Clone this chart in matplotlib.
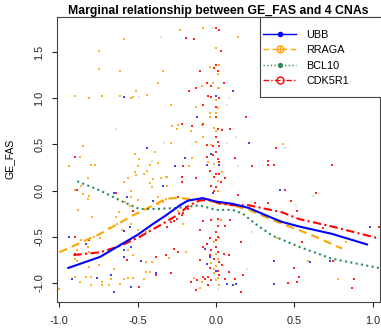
import matplotlib
matplotlib.use("Agg")
import matplotlib.pyplot as plt
from matplotlib.patches import Rectangle
from matplotlib.lines import Line2D

plt.rcParams['font.family'] = ['Liberation Sans', 'DejaVu Sans']

# ---------------- data ----------------
series_names = ["UBB", "RRAGA", "BCL10", "CDK5R1"]

# smoothed curves
ubb_x = [-0.943, -0.74, -0.50, -0.40, -0.32, -0.23, -0.18, -0.085, 0.0, 0.106, 0.21, 0.32, 0.42, 0.53, 0.74, 0.964]
ubb_y = [-0.84, -0.72, -0.48, -0.36, -0.27, -0.16, -0.11, -0.083, -0.12, -0.144, -0.19, -0.27, -0.34, -0.39, -0.47, -0.585]

rraga_x = [-1.0, -0.74, -0.53, -0.40, -0.32, -0.25, -0.106, 0.0, 0.106, 0.21, 0.32, 0.42, 0.53, 0.64, 0.805]
rraga_y = [-0.67, -0.47, -0.27, -0.16, -0.09, -0.08, -0.10, -0.126, -0.16, -0.21, -0.29, -0.36, -0.43, -0.505, -0.63]

bcl10_x = [-0.886, -0.74, -0.61, -0.49, -0.38, -0.25, -0.106, 0.0, 0.106, 0.17, 0.25, 0.36, 0.53, 0.74, 1.04]
bcl10_y = [0.10, 0.0, -0.11, -0.20, -0.20, -0.19, -0.16, -0.21, -0.21, -0.25, -0.36, -0.49, -0.61, -0.74, -0.84]

cdk_x = [-0.91, -0.74, -0.61, -0.49, -0.36, -0.25, -0.17, -0.106, -0.04, 0.02, 0.106, 0.21, 0.32, 0.42, 0.53, 0.74, 1.04]
cdk_y = [-0.70, -0.67, -0.60, -0.505, -0.38, -0.27, -0.16, -0.11, -0.10, -0.14, -0.16, -0.16, -0.20, -0.235, -0.31, -0.39, -0.52]

# scatter points
ubb_px = [-0.59, 0.11, 0.00, -0.44, -0.34, -0.65, -0.57, -0.40, -0.12, 0.21, -0.20, -0.03, -0.26, -0.06, 0.02,
          -0.02, 0.41, -0.59, -0.55, -0.94, -0.83, -0.54, -0.59, -0.59, -0.48, -0.38, -0.92, -0.76, -0.67, -0.65,
          -0.54, -0.07, -0.04, -0.06, 0.00, 0.07, 0.11, 0.98, 0.60, 0.73, 0.37, 0.13, 0.37]
ubb_py = [1.01, 1.08, 1.03, 0.46, 0.05, -0.03, -0.07, -0.11, 0.80, 0.52, 0.35, 0.40, 0.27, 0.28, 0.28,
          -0.03, 0.01, -0.44, -0.40, -0.50, -0.58, -0.61, -0.65, -0.72, -0.76, -0.90, -0.96, -0.95, -0.92, -1.10,
          -1.05, -0.63, -0.72, -0.80, -0.87, -1.01, -1.02, -0.40, -0.78, -0.77, -0.77, -1.01, -1.01]

rraga_px = [-0.59, -0.75, -0.75, -0.61, -0.34, -0.37, -0.51, -0.44, -0.90, -0.81, -0.73, -0.61, -0.53, -0.54,
            -0.23, -0.08, 0.14, 0.00, 0.02, -0.04, 0.01, -0.02, -0.09, 0.01, 0.02, 0.00, -0.29, -0.13, 0.01,
            -0.85, -0.87, -0.52, -0.49, -0.39, -0.94, -0.80, -0.77, -0.50, -0.37, -0.42, -0.44, -0.52, -0.51,
            -0.46, -0.56, -0.82, -0.40, -0.35, -0.32, -0.59, -0.42, -0.86, -0.41, -0.90, -0.54, -0.85, -0.81,
            -0.82, -0.54, -0.50, -0.37, -0.36, -0.34, -0.32, -0.58, -0.55, -0.37,
            -0.04, 0.00, -0.04, -0.28, -0.24, -0.25, -0.09, -0.16, -0.01, 0.00, -0.29, -0.13, -0.08, -0.03,
            -0.15, -0.05, -0.17, -0.01, 0.04, -0.31, 0.01, -0.31, 0.01, 0.43,
            -0.88, -0.62, -0.79, -0.64, -0.63, -0.54, -0.68, -0.60, -0.50, -0.39, -0.45, -0.86, -0.74, -0.78,
            -0.82, -0.89, -0.81, -0.90, -0.89, -0.56, -0.53, -0.45, -0.41, -0.75, -0.65, -0.81, -0.93, -0.45,
            -0.42, -0.83, -0.80, -0.90, -0.87, -0.80, -0.73, -0.67, -0.73, -0.68, -0.59, -0.56, -0.53, -1.00,
            -0.61, -0.46,
            -0.21, -0.24, 0.03, 0.02, -0.01, -0.19, 0.00, 0.01, -0.03, 0.00, -0.01, -0.01, 0.01, 0.00, -0.14,
            -0.09, 0.02, -0.10, -0.30, 0.83, 0.59, 0.78, 0.39]
rraga_py = [1.64, 1.51, 1.32, 1.30, 1.30, 1.17, 1.08, 1.04, 1.02, 1.00, 1.02, 1.02, 1.01, 1.00,
            1.74, 1.76, 1.66, 1.55, 1.36, 1.34, 1.26, 1.17, 1.13, 1.11, 1.11, 0.98, 0.93, 0.91, 0.89,
            0.48, 0.36, 0.40, 0.34, 0.42, 0.27, 0.28, 0.28, 0.27, 0.30, 0.28, 0.21, 0.20, 0.17,
            0.18, 0.14, 0.14, 0.13, 0.14, 0.15, 0.09, 0.08, 0.05, 0.04, 0.01, -0.01, -0.04, -0.06,
            -0.09, -0.07, -0.10, -0.07, -0.12, -0.12, -0.09, -0.13, -0.17, -0.15,
            0.84, 0.84, 0.80, 0.70, 0.71, 0.67, 0.71, 0.65, 0.68, 0.64, 0.52, 0.53, 0.58, 0.49,
            0.35, 0.31, 0.27, 0.29, 0.20, 0.15, 0.10, 0.05, 0.00, 0.50,
            -0.21, -0.23, -0.29, -0.29, -0.36, -0.36, -0.41, -0.43, -0.43, -0.41, -0.45, -0.54, -0.52, -0.50,
            -0.61, -0.65, -0.67, -0.74, -0.76, -0.65, -0.70, -0.78, -0.78, -0.81, -0.85, -0.83, -0.83, -0.88,
            -0.88, -0.94, -0.94, -0.94, -0.99, -1.03, -0.99, -0.96, -1.03, -1.03, -0.96, -0.95, -0.95, -1.07,
            -1.01, -0.96,
            -0.36, -0.22, -0.32, -0.52, -0.56, -0.67, -0.69, -0.74, -0.79, -0.82, -0.85, -0.90, -0.95, -0.97, -0.95,
            -0.99, -1.02, -1.06, -0.73, -0.56, -0.76, -0.96, -0.52]

bcl10_px = [-0.35, -0.49, -0.02, 0.08, 0.07, -0.64, -0.41, -0.33, 0.44, 0.62, 0.51, 0.01, 0.20, 0.23,
            0.13, 0.07, -0.15, 0.14, 0.10]
bcl10_py = [1.66, 1.01, 1.76, 1.00, 0.93, 0.67, 0.32, 0.52, 0.46, -0.06, -0.17, -1.07, -0.85, -0.45,
            0.58, 0.51, 0.50, 0.27, 0.07]

cdk_px = [0.00, 0.02, -0.19, -0.14, 0.03, 0.00, -0.01, -0.10, 0.01, -0.06, 0.05, -0.13, -0.03, -0.17, -0.05,
          -0.03, 0.02, -0.08, 0.00, 0.36,
          -0.90, -0.89, -0.64,
          0.00, 0.19, -0.22, -0.15, -0.08, 0.01, 0.04, 0.09, 0.00, 0.01, 0.02, -0.06, -0.02, 0.38, 0.00, -0.06,
          -0.02, 0.01, 0.02, 0.12, -0.21, 0.23, 0.33, 0.33, 0.37, -0.04, 0.02, 0.00, -0.22, -0.13, -0.01, 0.06,
          -0.22, 0.03, -0.03, 0.00, -0.01, -0.24, 0.14, 0.25, 0.33,
          0.74, 0.44, 0.64, 0.48,
          -0.53, -0.90, -0.81, -0.90, -0.57, -0.38, -0.32, -0.38, -0.49,
          -0.29, -0.27, -0.25, -0.22, -0.21, -0.31, -0.18, -0.08, -0.03, 0.01, 0.06, 0.09, 0.01, 0.00, -0.10,
          0.01, -0.04, 0.00, -0.06, -0.08, 0.00, -0.27, -0.24, -0.03, 0.01, -0.04, 0.05, 0.08, -0.01, -0.10,
          0.02, 0.04, -0.04, 0.01, 0.08, 0.02, -0.05, -0.07, -0.08, 0.06, 0.12, -0.03, -0.12, -0.16, -0.29,
          0.17, -0.05, -0.13, 0.16, 0.16,
          0.52, 0.68, 0.55, 0.75, 0.50, 0.53, 0.52, 0.46, 0.88, 1.04, 0.87]
cdk_py = [1.76, 1.74, 1.65, 1.64, 1.51, 1.36, 1.33, 1.30, 1.30, 1.17, 1.17, 1.11, 1.13, 1.08, 1.02,
          1.01, 1.00, 0.93, 0.91, 1.01,
          0.36, 0.01, -0.03,
          0.80, 0.80, 0.72, 0.70, 0.72, 0.67, 0.66, 0.67, 0.58, 0.53, 0.48, 0.49, 0.48, 0.46, 0.42, 0.36,
          0.39, 0.34, 0.31, 0.35, 0.27, 0.27, 0.32, 0.28, 0.28, 0.21, 0.18, 0.18, 0.15, 0.14, 0.15, 0.14,
          0.09, 0.09, 0.05, 0.04, 0.00, -0.07, -0.05, -0.14, -0.14,
          0.28, 0.01, -0.03, -0.11,
          -0.22, -0.50, -0.54, -0.69, -0.75, -0.72, -0.70, -0.92, -1.05,
          -0.34, -0.33, -0.31, -0.27, -0.24, -0.40, -0.20, -0.33, -0.32, -0.31, -0.38, -0.32, -0.38, -0.45, -0.43,
          -0.50, -0.52, -0.54, -0.58, -0.61, -0.61, -0.63, -0.67, -0.65, -0.67, -0.70, -0.69, -0.70, -0.74, -0.75,
          -0.78, -0.81, -0.84, -0.87, -0.88, -0.92, -0.94, -0.96, -0.94, -0.96, -0.96, -0.97, -0.97, -0.99, -0.90,
          -0.92, -1.02, -1.08, -1.10, -0.56,
          -0.22, -0.41, -0.56, -0.76, -0.84, -0.94, -0.99, -1.00, -0.96, -0.40, -1.06]

x_ticks = [-1.0, -0.5, 0.0, 0.5, 1.0]
y_ticks = [-1.0, -0.5, 0.0, 0.5, 1.0, 1.5]
title = "Marginal relationship between GE_FAS and 4 CNAs"
ylabel = "GE_FAS"

colors = {"UBB": "#0000FF", "RRAGA": "#FFA500", "BCL10": "#2E8B57", "CDK5R1": "#FF0000"}

# ---------------- figure ----------------
fig = plt.figure(figsize=(3.81, 3.33), dpi=100)
ax = fig.add_axes([0.1496, 0.094, 0.8478, 0.855])
ax.set_xlim(-1.015, 1.047)
ax.set_ylim(-1.206, 1.882)

ms = 4.5
ax.scatter(bcl10_px, bcl10_py, s=ms, marker='s', color="#B8DDB8", alpha=0.6, linewidths=0, zorder=2)
ax.scatter(rraga_px, rraga_py, s=ms, marker='s', color=colors["RRAGA"], alpha=0.85, linewidths=0, zorder=2)
ax.scatter(ubb_px, ubb_py, s=ms, marker='s', color=colors["UBB"], alpha=0.75, linewidths=0, zorder=2)
ax.scatter(cdk_px, cdk_py, s=ms, marker='s', color=colors["CDK5R1"], alpha=0.85, linewidths=0, zorder=2)

lw = 1.5
ax.plot(rraga_x, rraga_y, color=colors["RRAGA"], lw=lw, ls=(0, (4, 2.5)), zorder=3)
ax.plot(bcl10_x, bcl10_y, color=colors["BCL10"], lw=lw, ls=(0, (1, 1.6)), zorder=3)
ax.plot(cdk_x, cdk_y, color=colors["CDK5R1"], lw=lw, ls=(0, (4, 1.6, 1, 1.6)), zorder=3)
ax.plot(ubb_x, ubb_y, color=colors["UBB"], lw=lw, ls='-', zorder=4)

ax.set_xticks(x_ticks)
ax.set_xticklabels([f"{v:.1f}" for v in x_ticks])
ax.set_yticks(y_ticks)
ax.set_yticklabels([f"{v:.1f}" for v in y_ticks], rotation=90, va='center')
ax.tick_params(direction='out', length=3.5, width=0.8, labelsize=7.8, colors='#222222')
ax.tick_params(axis='x', pad=7)
ax.tick_params(axis='y', pad=5.5)
for sp in ax.spines.values():
    sp.set_color('#444444')
    sp.set_linewidth(0.8)

ax.set_title(title, fontsize=8.85, fontweight='bold', pad=1.5)
ax.set_ylabel(ylabel, fontsize=7.5)
ax.yaxis.set_label_coords(-0.13, 0.5)

# legend
h_ubb = Line2D([], [], color=colors["UBB"], lw=1, ls='-', marker='o', ms=3)
h_rr_line = Line2D([], [], color=colors["RRAGA"], lw=1, ls=(0, (4, 2.5)), marker='o', ms=5,
                   markerfacecolor='none')
h_rr_plus = Line2D([], [], color=colors["RRAGA"], lw=0, marker='+', ms=5, markeredgewidth=1)
h_bcl = Line2D([], [], color=colors["BCL10"], lw=1, ls=(0, (1, 1.6)), marker='o', ms=2.8)
h_cdk = Line2D([], [], color=colors["CDK5R1"], lw=1, ls=(0, (4, 1.6, 1, 1.6)), marker='o', ms=5,
               markerfacecolor='none')
handles = [h_ubb, (h_rr_line, h_rr_plus), h_bcl, h_cdk]
leg = ax.legend(handles, series_names, loc='upper left', bbox_to_anchor=(0.622, 0.974),
                frameon=False, fontsize=7.8, handlelength=3.0, handletextpad=0.95,
                labelspacing=0.5, borderpad=0.5, borderaxespad=0.0)
ax.add_patch(Rectangle((0.628, 0.719), 0.40, 0.281, transform=ax.transAxes, fill=True,
                       facecolor='white', edgecolor='#444444', lw=0.8, zorder=5, clip_on=False))
leg.set_zorder(6)

fig.savefig("out.png", dpi=100)
